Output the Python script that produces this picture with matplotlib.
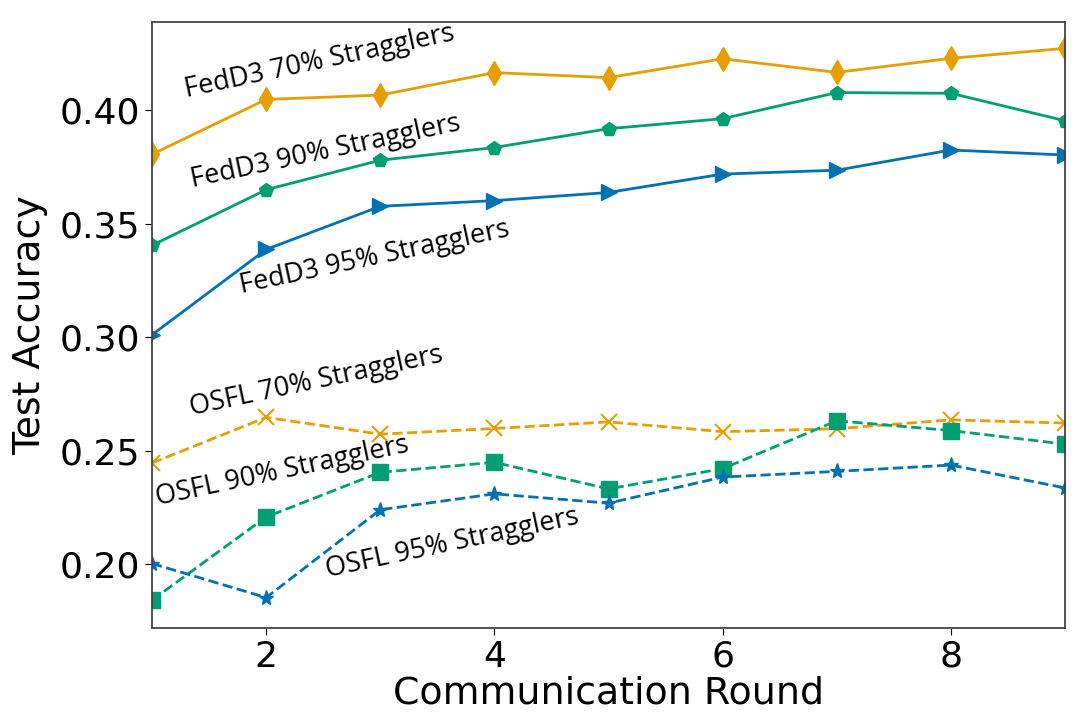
import matplotlib
matplotlib.use("Agg")
import matplotlib.pyplot as plt

rounds = [1, 2, 3, 4, 5, 6, 7, 8, 9]

fedd3_70 = [0.3805, 0.4047, 0.4066, 0.4165, 0.4143, 0.4226, 0.4166, 0.4228, 0.4272]
fedd3_90 = [0.3404, 0.3649, 0.3779, 0.3835, 0.3918, 0.3962, 0.4077, 0.4074, 0.3953]
fedd3_95 = [0.3010, 0.3386, 0.3576, 0.3601, 0.3637, 0.3718, 0.3735, 0.3824, 0.3802]

osfl_70 = [0.2445, 0.2646, 0.2572, 0.2597, 0.2626, 0.2583, 0.2596, 0.2635, 0.2621]
osfl_90 = [0.1841, 0.2207, 0.2404, 0.2448, 0.2331, 0.2420, 0.2631, 0.2588, 0.2528]
osfl_95 = [0.2002, 0.1852, 0.2239, 0.2309, 0.2268, 0.2383, 0.2408, 0.2436, 0.2335]

labels = ["FedD3 70% Stragglers", "FedD3 90% Stragglers", "FedD3 95% Stragglers",
          "OSFL 70% Stragglers", "OSFL 90% Stragglers", "OSFL 95% Stragglers"]
label_pos = [(2.47, 0.4211), (2.52, 0.3815), (2.95, 0.3348),
             (2.44, 0.2805), (2.14, 0.2406), (3.63, 0.2090)]

ORANGE = "#E69F00"
GREEN = "#009E73"
BLUE = "#0072B2"

fig = plt.figure(figsize=(10.76, 7.24), dpi=100)
ax = fig.add_axes([0.1413, 0.1326, 0.8485, 0.837])

lw = 2.0
ax.plot(rounds, fedd3_70, color=ORANGE, lw=lw, marker="d", ms=12)
ax.plot(rounds, fedd3_90, color=GREEN, lw=lw, marker="p", ms=10)
ax.plot(rounds, fedd3_95, color=BLUE, lw=lw, marker=">", ms=11)
ax.plot(rounds, osfl_70, color=ORANGE, lw=lw, ls="--", marker="x", ms=12, mew=1.5)
ax.plot(rounds, osfl_90, color=GREEN, lw=lw, ls="--", marker="s", ms=11)
ax.plot(rounds, osfl_95, color=BLUE, lw=lw, ls="--", marker="*", ms=11)

for lab, (x, y) in zip(labels, label_pos):
    ax.text(x, y, lab, rotation=12, ha="center", va="center",
            rotation_mode="anchor", fontsize=19.5, family=["Open Sans", "DejaVu Sans"])

ax.set_xlim(1, 9)
ax.set_ylim(0.1718, 0.4388)
ax.set_xticks([2, 4, 6, 8])
ax.set_yticks([0.20, 0.25, 0.30, 0.35, 0.40])
ax.set_yticklabels(["0.20", "0.25", "0.30", "0.35", "0.40"])
ax.tick_params(labelsize=26, length=5)
ax.set_xlabel("Communication Round", fontsize=27.3, labelpad=1)
ax.set_ylabel("Test Accuracy", fontsize=27.3, labelpad=8)
for s in ax.spines.values():
    s.set_color("#444444")
    s.set_linewidth(1.3)

fig.savefig("out.png", dpi=100)
